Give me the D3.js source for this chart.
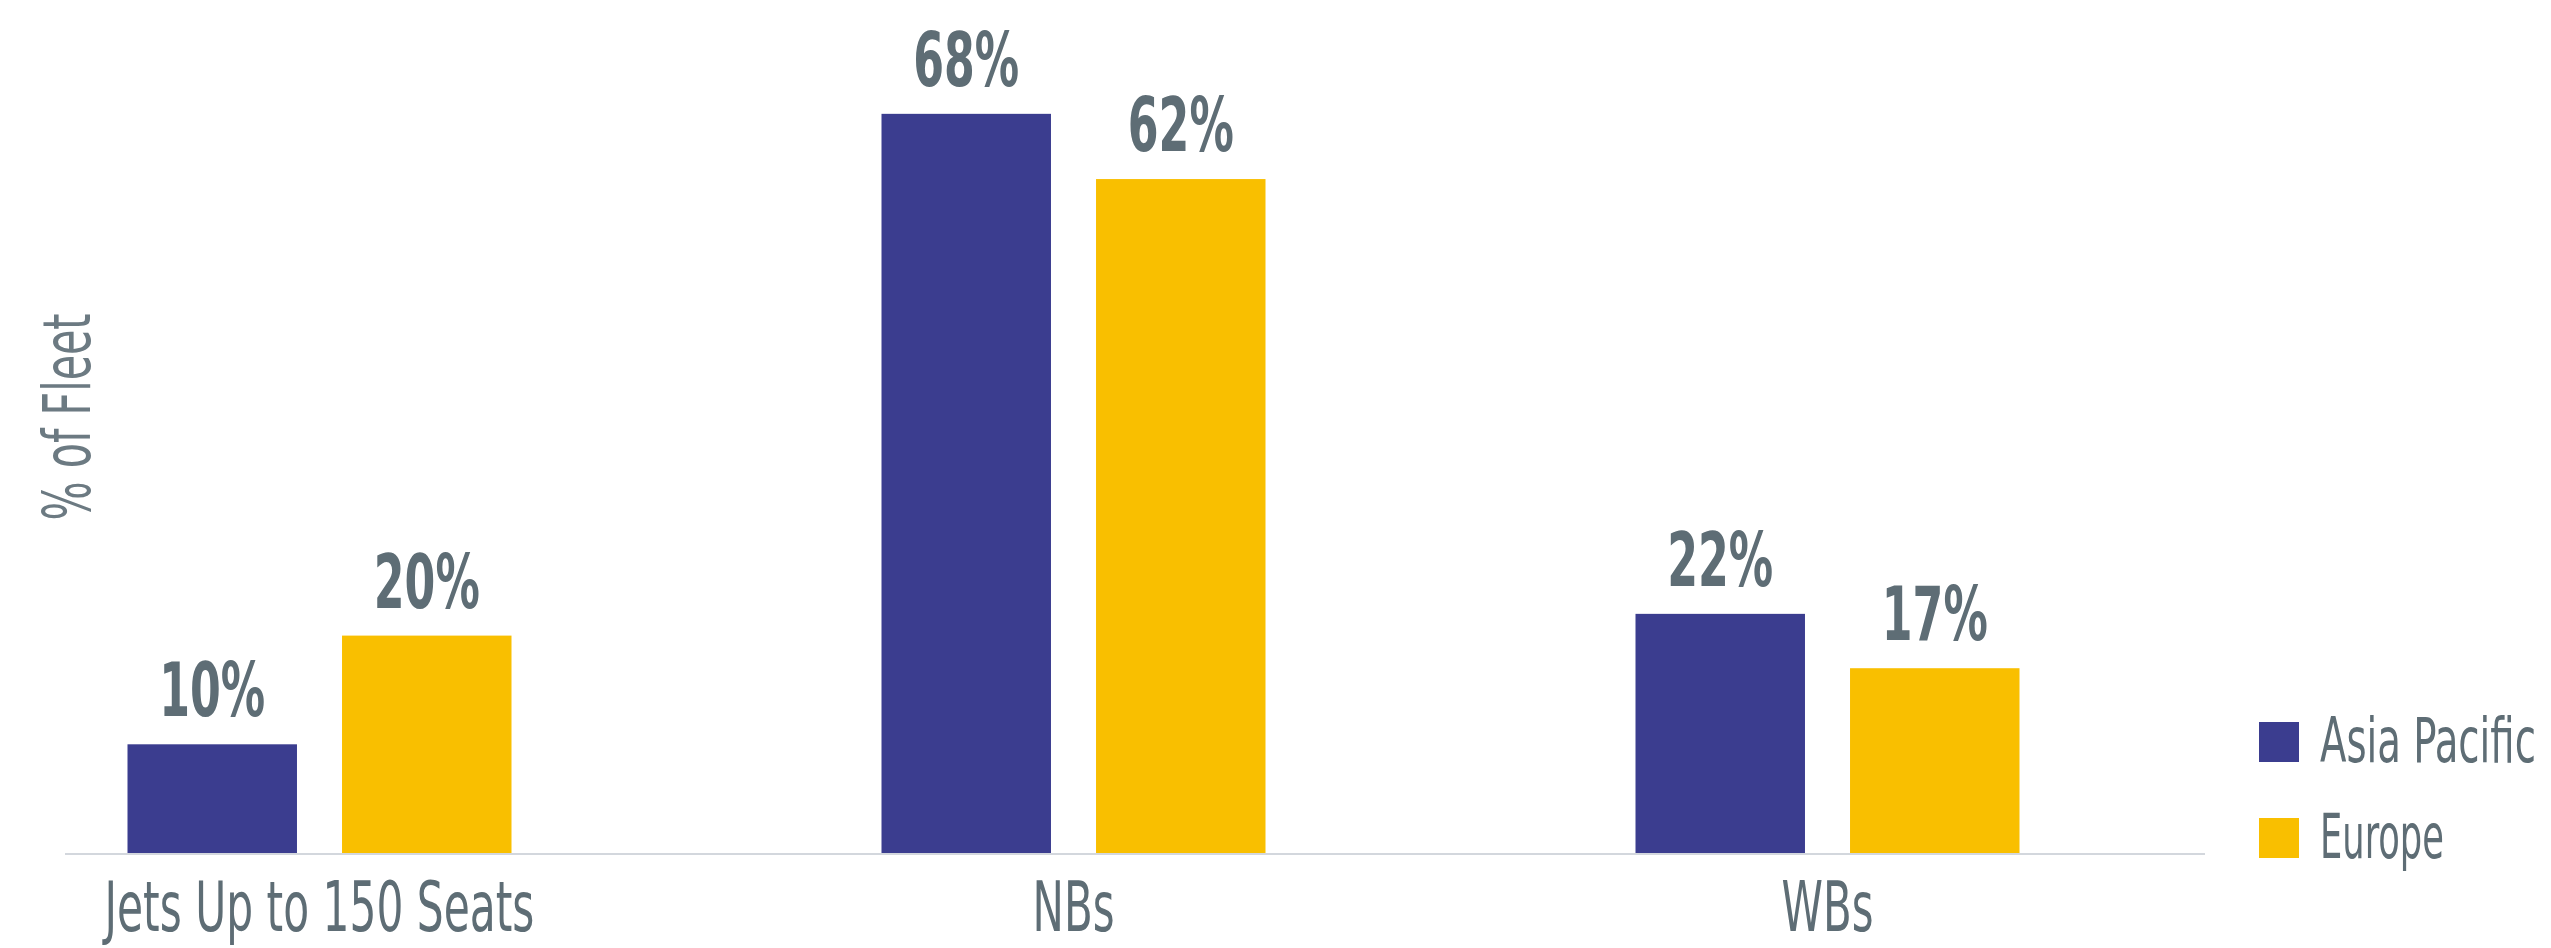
<!DOCTYPE html>
<html>
<head>
<meta charset="utf-8">
<script src="https://cdn.jsdelivr.net/npm/d3@7"></script>
<style>
  body { margin: 0; background: #fff; }
  svg text { font-family: "Liberation Sans Narrow", "DejaVu Sans Condensed", "Roboto", sans-serif; }
</style>
</head>
<body>
<div id="chart"></div>
<script>
// data
const categories = ["Jets Up to 150 Seats", "NBs", "WBs"];
const seriesNames = ["Asia Pacific", "Europe"];
const asiaPacific = [10, 68, 22];
const europe = [20, 62, 17];

const colors = ["#3b3d8f", "#f9bf00"];
const textColor = "#5e6d75";

const width = 2551, height = 948;

const svg = d3.select("#chart").append("svg")
    .attr("width", width)
    .attr("height", height);

// squeeze a text horizontally so it is as narrow as the condensed face in the original
function squeeze(sel, x, y, target, rot) {
    sel.each(function (d, i) {
        const t = d3.select(this);
        const w = this.getComputedTextLength();
        const tw = typeof target === "function" ? target(d, i) : target;
        const k = w > 0 ? tw / w : 1;
        const px = typeof x === "function" ? x(d, i) : x;
        const py = typeof y === "function" ? y(d, i) : y;
        t.attr("transform", `translate(${px},${py})${rot ? " rotate(" + rot + ")" : ""} scale(${k},1)`);
    });
}

// scales
const x0 = d3.scalePoint()
    .domain(categories)
    .range([319.5, 1827.5]);

const x1 = d3.scaleBand()
    .domain(seriesNames)
    .range([-192, 192])
    .paddingInner(0.21);

const y = d3.scaleLinear()
    .domain([0, 70])
    .range([853, 853 - 70 * 10.87]);

const rows = categories.map((c, i) => ({
    category: c,
    values: [asiaPacific[i], europe[i]]
}));

// bars
const groups = svg.selectAll(".group")
    .data(rows)
    .enter()
    .append("g")
    .attr("class", "group")
    .attr("transform", d => `translate(${x0(d.category)},0)`);

groups.selectAll("rect")
    .data(d => d.values.map((v, i) => ({ name: seriesNames[i], value: v, idx: i })))
    .enter()
    .append("rect")
    .attr("x", d => x1(d.name))
    .attr("y", d => y(d.value))
    .attr("width", x1.bandwidth())
    .attr("height", d => y(0) - y(d.value))
    .attr("fill", d => colors[d.idx]);

// value labels
groups.selectAll(".val")
    .data(d => d.values.map((v, i) => ({ name: seriesNames[i], value: v })))
    .enter()
    .append("text")
    .attr("class", "val")
    .attr("text-anchor", "middle")
    .attr("font-size", "74px")
    .attr("font-weight", "bold")
    .attr("fill", textColor)
    .text(d => d.value + "%")
    .call(squeeze, d => x1(d.name) + x1.bandwidth() / 2, d => y(d.value) - 28, 106);

// x axis baseline
svg.append("line")
    .attr("x1", 65)
    .attr("x2", 2205)
    .attr("y1", y(0) + 1)
    .attr("y2", y(0) + 1)
    .attr("stroke", "#d3d7dd")
    .attr("stroke-width", 2);

// category labels
const labelWidths = { "Jets Up to 150 Seats": 430, "NBs": 82, "WBs": 92 };
svg.selectAll(".cat")
    .data(categories)
    .enter()
    .append("text")
    .attr("class", "cat")
    .attr("text-anchor", "middle")
    .attr("font-size", "70px")
    .attr("fill", textColor)
    .text(d => d)
    .call(squeeze, d => x0(d), 931, d => labelWidths[d]);

// y axis title
svg.append("text")
    .attr("text-anchor", "middle")
    .attr("font-size", "66px")
    .attr("fill", "#6c7a82")
    .text("% of Fleet")
    .call(squeeze, 90, 417, 207, -90);

// legend
const legendWidths = [216, 124];
const legend = svg.selectAll(".legend")
    .data(seriesNames)
    .enter()
    .append("g")
    .attr("class", "legend")
    .attr("transform", (d, i) => `translate(2259,${722 + i * 96})`);

legend.append("rect")
    .attr("width", 40)
    .attr("height", 40)
    .attr("fill", (d, i) => colors[i]);

legend.append("text")
    .attr("font-size", "63px")
    .attr("fill", textColor)
    .text(d => d)
    .call(squeeze, 61, 40, (d, i) => legendWidths[i]);
</script>
</body>
</html>
